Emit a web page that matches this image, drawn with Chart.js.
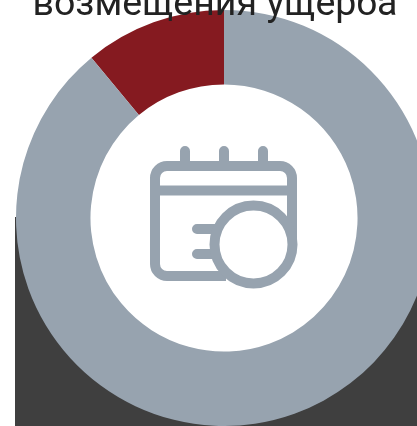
<!DOCTYPE html>
<html>
<head>
<meta charset="utf-8">
<title>возмещения ущерба</title>
<script src="https://cdn.jsdelivr.net/npm/chart.js@4/dist/chart.umd.js"></script>
<style>
  html, body { margin: 0; padding: 0; width: 417px; height: 426px; overflow: hidden; background: #fff; }
  #backdrop { position: absolute; left: 15px; top: 217px; width: 402px; height: 209px; background: #3f3f3f; }
  #hole { position: absolute; left: 88px; top: 82px; width: 272px; height: 272px; border-radius: 50%; background: #fff; }
  #chartbox { position: absolute; left: 16px; top: 9.500px; width: 416px; height: 416px; }
  #icon { position: absolute; left: 0; top: 0; }
  #heading {
    position: absolute; left: 0; top: -20px; width: 430px; text-align: center;
    font: 37.500px/45px Roboto, sans-serif; color: #222; white-space: nowrap;
  }
</style>
</head>
<body>
<div id="backdrop"></div>
<div id="hole"></div>
<div id="chartbox"><canvas id="ring" width="416" height="416"></canvas></div>

<!-- calendar icon in the middle of the ring -->
<svg id="icon" width="417" height="426" fill="none" stroke="#97a3af" stroke-width="10" stroke-linecap="round">
  <path d="M185 151V164M224 151V164M263 151V164"/>
  <path d="M292 244V178a12 12 0 0 0-12-12H167a12 12 0 0 0-12 12V264a12 12 0 0 0 12 12H226" stroke-linecap="butt"/>
  <path d="M155 190.500H292" stroke-linecap="butt"/>
  <path d="M197 229H222M197 254H222"/>
  <circle cx="253.500" cy="244.500" r="39" fill="#fff"/>
</svg>

<div id="heading">возмещения ущерба</div>

<script>
var categories = ['Возмещено', 'Остальное'];
var shares = [11, 89];
var colors = ['#851a20', '#97a3af'];

var ctx = document.getElementById('ring').getContext('2d');
var ring = new Chart(ctx, {
  type: 'doughnut',
  data: {
    labels: categories,
    datasets: [{
      data: shares,
      backgroundColor: colors,
      borderWidth: 0
    }]
  },
  options: {
    responsive: false,
    animation: false,
    cutout: '64.200%',
    rotation: -39.6,
    layout: { padding: 0 },
    plugins: {
      legend: { display: false },
      tooltip: { enabled: false }
    }
  }
});
</script>
</body>
</html>
